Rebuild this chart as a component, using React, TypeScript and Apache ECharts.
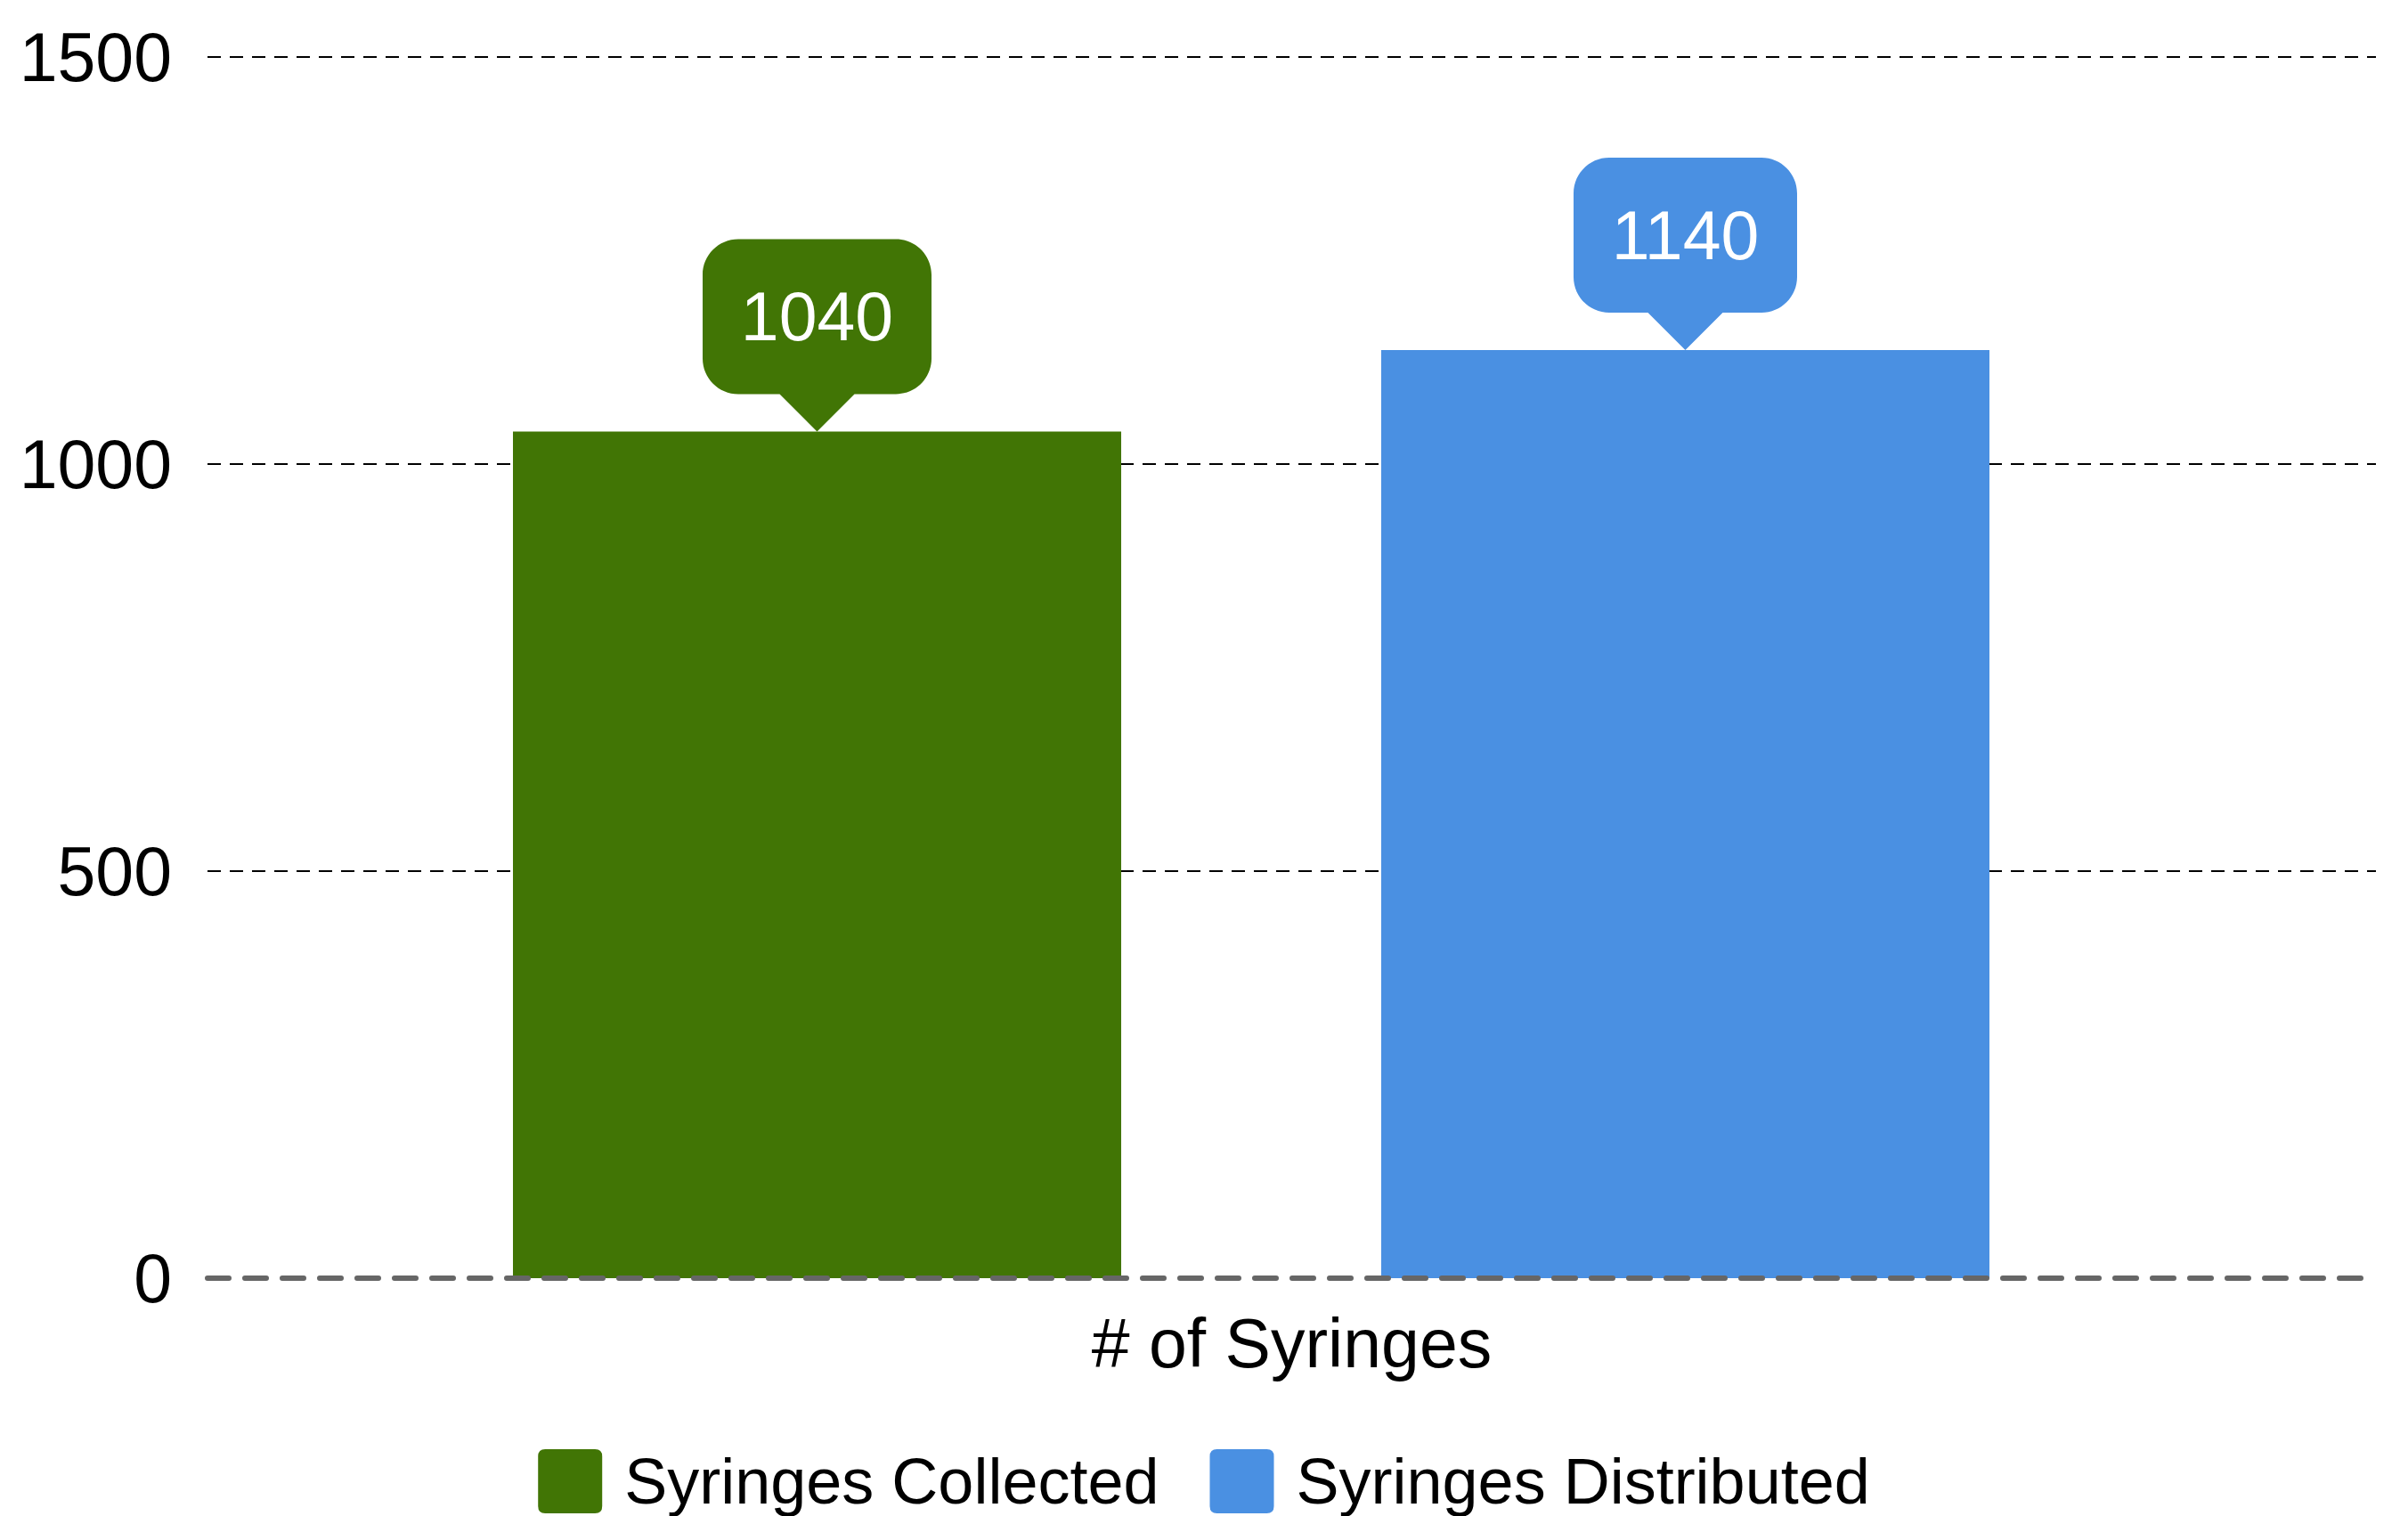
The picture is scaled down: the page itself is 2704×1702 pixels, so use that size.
import React, { useEffect, useRef } from "react";
import * as echarts from "echarts";

const CATEGORIES = ["# of Syringes"];
const SERIES_NAMES = ["Syringes Collected", "Syringes Distributed"];
const COLLECTED = [1040];
const DISTRIBUTED = [1140];
const COLORS = ["#417505", "#4A90E2"];
const Y_MIN = 0;
const Y_MAX = 1500;
const Y_INTERVAL = 500;

const FONT = "'Liberation Sans', Arial, sans-serif";

function bubblePath(w: number, h: number, p: number, r: number): string {
  const k = 0.5523 * r;
  const c = w / 2;
  return (
    `path://M${r},0 H${w - r} C${w - r + k},0 ${w},${r - k} ${w},${r} V${h - r} ` +
    `C${w},${h - r + k} ${w - r + k},${h} ${w - r},${h} H${c + 42} L${c},${h + p} L${c - 42},${h} ` +
    `H${r} C${r - k},${h} 0,${h - r + k} 0,${h - r} V${r} C0,${r - k} ${r - k},0 ${r},0 Z`
  );
}

export default function App() {
  const ref = useRef<HTMLDivElement>(null);
  useEffect(() => {
    if (!ref.current) return;
    const chart = echarts.init(ref.current, null, { renderer: "svg" });
    const legendIcon = "path://M8,0 H64 Q72,0 72,8 V64 Q72,72 64,72 H8 Q0,72 0,64 V8 Q0,0 8,0 Z";
    const makeMarkPoint = (values: number[], w: number) => ({
      symbol: bubblePath(w, 174, 42, 40),
      symbolSize: [w, 216],
      symbolOffset: [0, "-50%"],
      symbolKeepAspect: false,
      silent: true,
      label: {
        show: true,
        position: "inside",
        offset: [0, -21],
        color: "#ffffff",
        fontSize: 77,
        fontFamily: FONT,
        formatter: (p: any) => String(p.value),
      },
      data: values.map((v, i) => ({ coord: [CATEGORIES[i], v], value: v })),
    });
    chart.setOption({
      animation: false,
      backgroundColor: "#ffffff",
      textStyle: { fontFamily: FONT },
      grid: [
        { left: 233, right: 36, top: 64, bottom: 267 },
        { left: 142, right: 36, top: 64, bottom: 267 },
      ],
      legend: {
        data: SERIES_NAMES,
        left: "center",
        top: 1622,
        itemWidth: 72,
        itemHeight: 72,
        itemGap: 57,
        icon: legendIcon,
        textStyle: {
          fontSize: 72,
          color: "#000000",
          fontFamily: FONT,
          padding: [0, 0, 0, 20],
        },
      },
      xAxis: [
        {
          type: "category",
          gridIndex: 0,
          data: CATEGORIES,
          offset: 3,
          axisLine: {
            show: true,
            lineStyle: { color: "#666666", width: 6, type: [24, 18] },
          },
          axisTick: { show: false },
          axisLabel: { fontSize: 77, color: "#000000", margin: 31, fontFamily: FONT },
          z: 3,
        },
        {
          type: "category",
          gridIndex: 1,
          data: CATEGORIES,
          show: false,
        },
      ],
      yAxis: [
        {
          type: "value",
          gridIndex: 0,
          min: Y_MIN,
          max: Y_MAX,
          interval: Y_INTERVAL,
          axisLine: { show: false },
          axisTick: { show: false },
          axisLabel: {
            fontSize: 77,
            color: "#000000",
            margin: 40,
            fontFamily: FONT,
            formatter: (v: number) => String(v),
          },
          splitLine: {
            show: true,
            showMinLine: false,
            lineStyle: { color: "#000000", width: 2, type: [15, 10] },
          },
        },
        {
          type: "value",
          gridIndex: 1,
          min: Y_MIN,
          max: Y_MAX,
          interval: Y_INTERVAL,
          show: false,
          splitLine: { show: false },
        },
      ],
      series: [
        {
          name: SERIES_NAMES[0],
          type: "bar",
          xAxisIndex: 1,
          yAxisIndex: 1,
          data: COLLECTED,
          barWidth: 683,
          barGap: "42.75%",
          itemStyle: { color: COLORS[0] },
          markPoint: makeMarkPoint(COLLECTED, 257),
        },
        {
          name: SERIES_NAMES[1],
          type: "bar",
          xAxisIndex: 1,
          yAxisIndex: 1,
          data: DISTRIBUTED,
          barWidth: 683,
          barGap: "42.75%",
          itemStyle: { color: COLORS[1] },
          markPoint: makeMarkPoint(DISTRIBUTED, 251),
        },
      ],
    });
    return () => chart.dispose();
  }, []);
  return (
    <div
      ref={ref}
      style={{ position: "fixed", left: 0, top: 0, width: 2704, height: 1702 }}
    />
  );
}
